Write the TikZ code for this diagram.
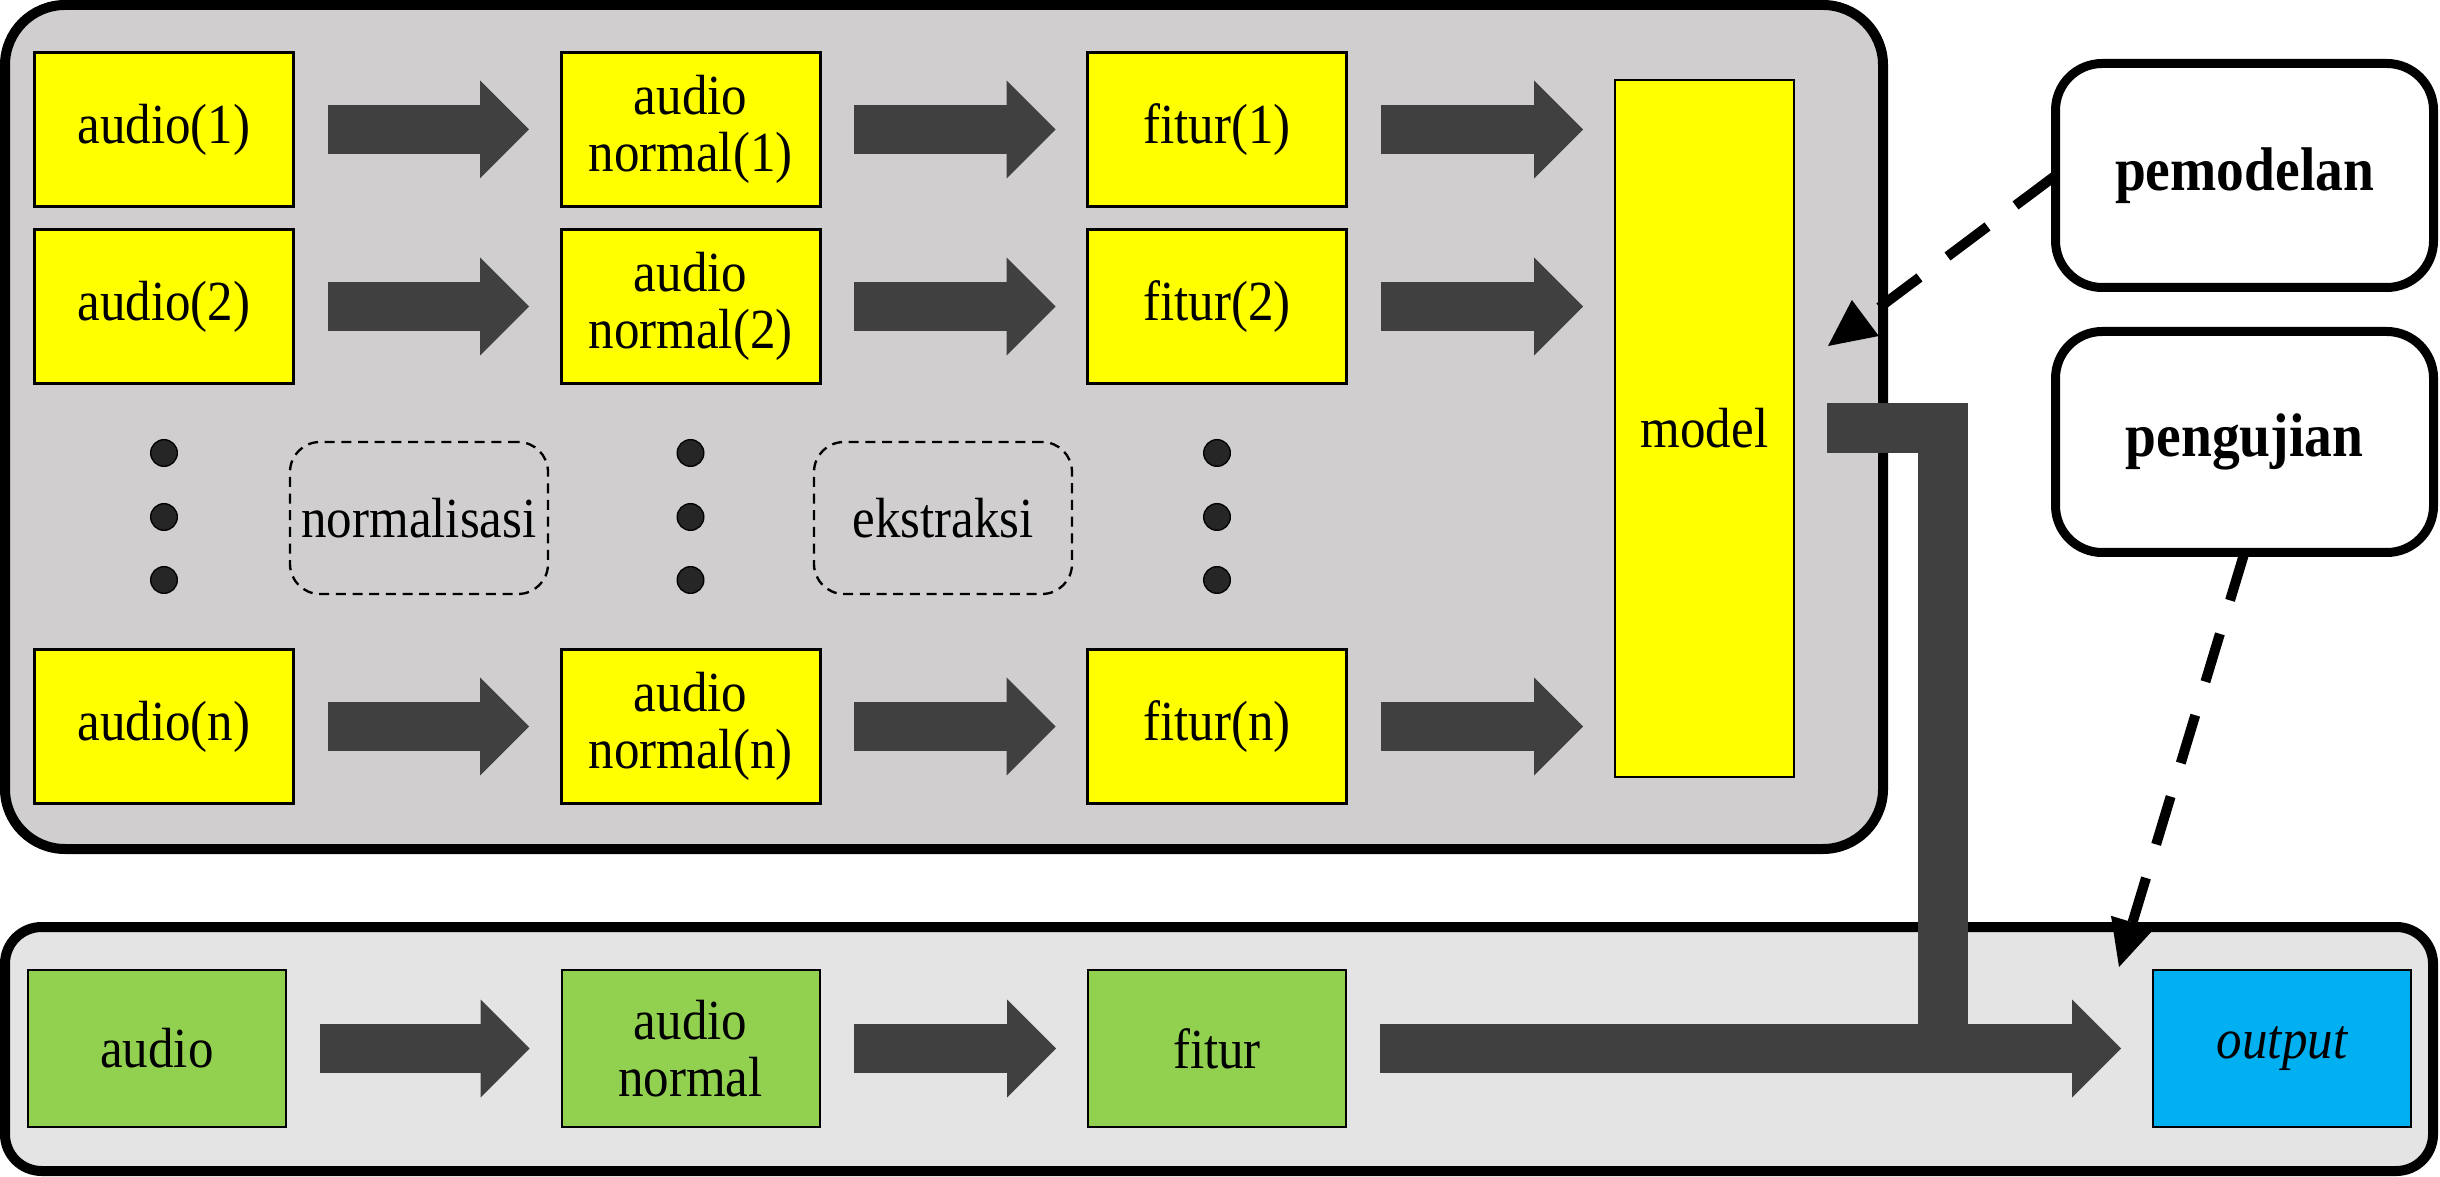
\documentclass[tikz,border=0pt]{standalone}
\usepackage{fontspec}
\setmainfont{Liberation Serif}[FakeStretch=0.9]
\usetikzlibrary{arrows.meta}
\definecolor{panelA}{HTML}{D0CECE}
\definecolor{panelB}{HTML}{E4E4E4}
\definecolor{ylw}{HTML}{FFFF00}
\definecolor{grn}{HTML}{92D050}
\definecolor{blu}{HTML}{00B0F0}
\definecolor{agray}{HTML}{404040}
\definecolor{dotc}{HTML}{262626}
\begin{document}
\begin{tikzpicture}[x=0.3pt,y=-0.3pt,
  every node/.style={font=\fontsize{17pt}{17.2pt}\selectfont, inner sep=0pt, outer sep=0pt, align=center},
  ybox/.style={draw=black, line width=0.9pt, fill=ylw, minimum width=77.7pt, minimum height=46.2pt},
  gbox/.style={draw=black, line width=0.6pt, fill=grn, minimum width=77.4pt, minimum height=47.1pt},
  obox/.style={draw=black, line width=0.5pt, fill=blu, minimum width=77.4pt, minimum height=47.1pt},
  dbox/.style={draw=black, line width=0.7pt, dash pattern=on 3pt off 2pt, rounded corners=9pt, minimum width=77.4pt, minimum height=45.6pt},
  sbox/.style={draw=black, line width=2.7pt, fill=white, rounded corners=14pt, minimum width=113.4pt, font=\fontsize{18.5pt}{19pt}\selectfont\bfseries},
  dotn/.style={circle, draw=black, line width=0.4pt, fill=dotc, minimum size=8pt},
  blockarrow/.style={draw=agray, line width=14.7pt, -{Triangle[length=14.7pt,width=29.4pt,line width=0pt]}, shorten <=10.2pt, shorten >=9.6pt},
  dasharrow/.style={draw=black, line width=3pt, dash pattern=on 15pt off 10.5pt, -{Triangle[length=14pt,width=13.5pt,line width=0pt]}},
  lbar/.style={draw=agray, line width=15pt, line join=miter}
]
\useasboundingbox (0,0) rectangle (2440,1177);
\fill[white] (0,0) rectangle (2440,1177);
% panels
\draw[line width=3pt, fill=panelA, rounded corners=18pt] (5,5) rectangle (1883,849);
\draw[line width=3pt, fill=panelB, rounded corners=11pt] (5,927) rectangle (2433,1171);
% top grid
\node[ybox] (a1) at (164,129.5) {audio(1)};
\node[ybox] (a2) at (164,306.5) {audio(2)};
\node[ybox] (an) at (164,726.5) {audio(n)};
\node[ybox] (b1) at (690.5,129.5) {audio\\normal(1)};
\node[ybox] (b2) at (690.5,306.5) {audio\\normal(2)};
\node[ybox] (bn) at (690.5,726.5) {audio\\normal(n)};
\node[ybox] (c1) at (1217,129.5) {fitur(1)};
\node[ybox] (c2) at (1217,306.5) {fitur(2)};
\node[ybox] (cn) at (1217,726.5) {fitur(n)};
\node[ybox, line width=0.6pt, minimum width=53.7pt, minimum height=209.1pt] (m) at (1704.5,428.5) {model};
% dots
\foreach \cx/\nm in {164/da,690.5/db,1217/dc}{
  \node[dotn] (\nm1) at (\cx,453) {};
  \node[dotn] (\nm2) at (\cx,517) {};
  \node[dotn] (\nm3) at (\cx,580) {};
}
\node[dbox] (norm) at (419,518) {normalisasi};
\node[dbox] (eks) at (943,518) {ekstraksi};
% arrows top
\draw[blockarrow] (a1) -- (b1);
\draw[blockarrow] (a2) -- (b2);
\draw[blockarrow] (an) -- (bn);
\draw[blockarrow] (b1) -- (c1);
\draw[blockarrow] (b2) -- (c2);
\draw[blockarrow] (bn) -- (cn);
\draw[blockarrow] (c1) -- (c1 -| m.west);
\draw[blockarrow] (c2) -- (c2 -| m.west);
\draw[blockarrow] (cn) -- (cn -| m.west);
% bottom row
\node[gbox] (ga) at (157,1048.5) {audio};
\node[gbox] (gb) at (690.5,1048.5) {audio\\normal};
\node[gbox] (gf) at (1217,1048.5) {fitur};
\node[obox] (out) at (2282,1048.5) {\itshape output};
\draw[blockarrow] (ga) -- (gb);
\draw[blockarrow] (gb) -- (gf);
\draw[blockarrow] (gf) -- (out);
% L connector from model
\coordinate (merge) at (1943,1073);
\draw[lbar, shorten <=9.9pt] (m.east) -| (merge);
% side boxes
\node[sbox, minimum height=67.2pt] (pem) at (2244.5,175.5) {pemodelan};
\node[sbox, minimum height=66.3pt] (peng) at (2244.5,442) {pengujian};
\coordinate (pemtip) at (1828,346);
\coordinate (pengtip) at (2119,967);
\draw[dasharrow] (pem.west) -- (pemtip);
\draw[dasharrow] (peng.south) -- (pengtip);
\end{tikzpicture}
\end{document}
